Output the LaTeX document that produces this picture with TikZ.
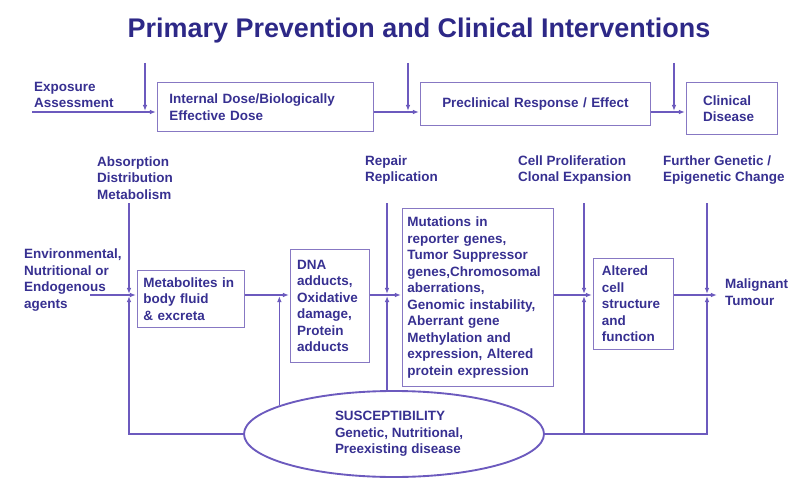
\documentclass[tikz,border=0pt]{standalone}
\usepackage{fontspec}
\setmainfont{Liberation Sans}
\usepackage{xcolor}
\usetikzlibrary{arrows.meta, shapes.geometric, positioning}

\definecolor{titleblue}{RGB}{45,40,135}
\definecolor{textblue}{RGB}{55,48,145}
\definecolor{linepurple}{RGB}{108,90,190}
\definecolor{boxpurple}{RGB}{135,120,195}

\tikzset{
    lbl/.style={inner sep=0pt, align=left, text=textblue, font=\bfseries\fontsize{11.5}{14.1}\selectfont},
    box/.style={lbl, draw=boxpurple, line width=0.8pt, inner ysep=0pt, anchor=north west},
    flow/.style={draw=linepurple, line width=1.1pt},
    feed/.style={flow, -{Latex[length=5pt,width=4pt]}, shorten >=1pt},
}

\begin{document}
\begin{tikzpicture}[x=0.03cm, y=-0.03cm]
                        \useasboundingbox (0,0) rectangle (788,482);
                        \node[text=titleblue, font=\bfseries\fontsize{23}{28}\selectfont] (title) at (419,31) {Primary Prevention and Clinical Interventions};

                        % upper row
                        \node[lbl, anchor=west] (expo) at (34,95) {Exposure\\Assessment};
                        \node[box, text width=5.76cm, inner xsep=0.36cm, minimum height=1.47cm] (idose) at (157,82) {Internal Dose/Biologically\\Effective Dose};
                        \node[box, align=center, text width=6.5cm, inner xsep=0.2cm, minimum height=1.29cm] (preclin) at (420,82) {Preclinical Response / Effect};
                        \node[box, text width=1.73cm, inner xsep=0.5cm, minimum height=1.56cm] (clin) at (686,82) {Clinical\\Disease};
                        \coordinate (expin) at (32,112);
                        \coordinate (t1) at (145,63);
                        \coordinate (t2) at (408,63);
                        \coordinate (t3) at (674,63);
                        \draw[feed] (expin) -- (expin -| idose.west);
                        \draw[feed] (idose.east |- expin) -- (expin -| preclin.west);
                        \draw[feed] (preclin.east |- expin) -- (expin -| clin.west);
                        \draw[feed] (t1) -- (t1 |- expin);
                        \draw[feed] (t2) -- (t2 |- expin);
                        \draw[feed] (t3) -- (t3 |- expin);

                        % lower row
                        \node[lbl, anchor=west] (absorb) at (97,178) {Absorption\\Distribution\\Metabolism};
                        \node[lbl, anchor=west] (repair) at (365,170) {Repair\\Replication};
                        \node[lbl, anchor=west] (prolif) at (518,170) {Cell Proliferation\\Clonal Expansion};
                        \node[lbl, anchor=west] (further) at (663,170) {Further Genetic /\\Epigenetic Change};
                        \node[lbl, anchor=west] (envir) at (24,280) {Environmental,\\Nutritional or\\Endogenous\\agents};
                        \node[lbl, anchor=west] (malig) at (725,292) {Malignant\\Tumour};
                        \node[box, text width=2.85cm, inner xsep=0.18cm, minimum height=1.71cm] (metab) at (137,270) {Metabolites in\\body fluid\\\& excreta};
                        \node[box, text width=1.97cm, inner xsep=0.2cm, minimum height=3.39cm] (dna) at (290,249) {DNA\\adducts,\\Oxidative\\damage,\\Protein\\adducts};
                        \node[box, text width=4.23cm, inner xsep=0.15cm, minimum height=5.34cm] (mut) at (402,208) {Mutations in\\reporter genes,\\Tumor Suppressor\\genes,Chromosomal\\aberrations,\\Genomic instability,\\Aberrant gene\\Methylation and\\expression, Altered\\protein expression};
                        \node[box, text width=1.9cm, inner xsep=0.25cm, minimum height=2.73cm] (alt) at (593,258) {Altered\\cell\\structure\\and\\function};
                        \node[lbl, flow, line width=1.6pt, ellipse, minimum width=9cm, minimum height=2.58cm] (suscept) at (394,434) {\hspace*{0.3cm}SUSCEPTIBILITY\\\hspace*{0.3cm}Genetic, Nutritional,\\\hspace*{0.3cm}Preexisting disease};

                        \coordinate (envin) at (90,295);
                        \coordinate (maligin) at (718,295);
                        \coordinate (c1) at (129,203);
                        \coordinate (c2) at (387,203);
                        \coordinate (c3) at (584,203);
                        \coordinate (c4) at (707,203);
                        \draw[feed] (envin) -- (envin -| metab.west);
                        \draw[feed] (metab.east |- envin) -- (envin -| dna.west);
                        \draw[feed] (dna.east |- envin) -- (envin -| mut.west);
                        \draw[feed] (mut.east |- envin) -- (envin -| alt.west);
                        \draw[feed] (alt.east |- envin) -- (maligin);
                        \draw[feed] (c1) -- (c1 |- envin);
                        \draw[feed] (c2) -- (c2 |- envin);
                        \draw[feed] (c3) -- (c3 |- envin);
                        \draw[feed] (c4) -- (c4 |- envin);

                        % susceptibility feeds
                        \draw[feed] (suscept.west) -| (c1 |- envin);
                        \draw[feed] (suscept.166) -- (suscept.166 |- envin);
                        \draw[feed] (suscept.99) -- (suscept.99 |- envin);
                        \draw[feed] (suscept.east) -| (c4 |- envin);
                        \draw[feed] (c3 |- suscept.east) -- (c3 |- envin);
                    \end{tikzpicture}
\end{document}
